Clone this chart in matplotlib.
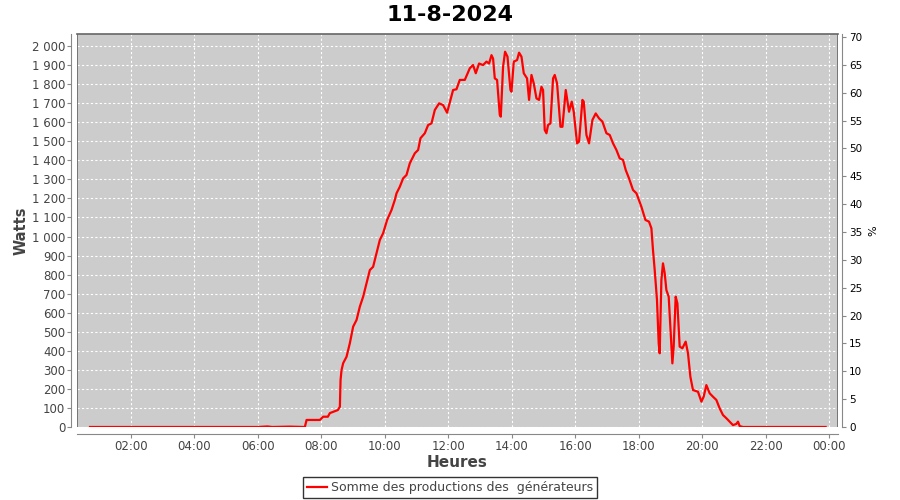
import matplotlib
matplotlib.use("Agg")
from matplotlib import pyplot as plt
from matplotlib.ticker import FuncFormatter, MultipleLocator

# heure (décimale) et puissance (W)
hours = [
    0.71, 2.0, 4.0, 6.0, 6.3, 6.45, 7.0, 7.48, 7.534, 7.953, 8.057, 8.205, 8.268,
    8.520, 8.583, 8.605, 8.636, 8.687, 8.794, 8.898, 9.002, 9.109, 9.213, 9.317,
    9.424, 9.528, 9.631, 9.739, 9.843, 9.946, 10.072, 10.211, 10.315, 10.369,
    10.472, 10.576, 10.683, 10.787, 10.945, 11.049, 11.124, 11.260, 11.364,
    11.471, 11.575, 11.710, 11.836, 11.962, 12.151, 12.258, 12.362, 12.520,
    12.677, 12.781, 12.866, 12.970, 13.096, 13.203, 13.285, 13.361, 13.411,
    13.465, 13.537, 13.622, 13.654, 13.726, 13.789, 13.865, 13.959, 13.991,
    14.063, 14.167, 14.230, 14.306, 14.378, 14.482, 14.545, 14.621, 14.693,
    14.778, 14.860, 14.935, 14.986, 15.039, 15.093, 15.143, 15.219, 15.301,
    15.354, 15.427, 15.534, 15.597, 15.701, 15.805, 15.890, 15.953, 16.057,
    16.120, 16.227, 16.268, 16.353, 16.435, 16.542, 16.646, 16.750, 16.857,
    16.983, 17.087, 17.191, 17.298, 17.402, 17.506, 17.591, 17.695, 17.821,
    17.928, 18.085, 18.211, 18.324, 18.400, 18.450, 18.504, 18.576, 18.630,
    18.661, 18.715, 18.765, 18.819, 18.872, 18.945, 18.998, 19.061, 19.102,
    19.165, 19.219, 19.291, 19.376, 19.480, 19.553, 19.628, 19.710, 19.868,
    19.975, 20.047, 20.132, 20.236, 20.340, 20.447, 20.551, 20.655, 20.762,
    20.866, 20.970, 21.077, 21.128, 21.181, 21.285, 22.0, 23.0, 23.89,
]
watts = [
    0, 0, 0, 0, 3, 0, 2, 0, 37, 37, 54, 54, 73,
    89, 106, 247, 299, 335, 369, 440, 527, 562, 632, 684,
    754, 824, 841, 912, 982, 1017, 1087, 1139, 1192, 1227,
    1261, 1305, 1323, 1384, 1437, 1454, 1516, 1542, 1585,
    1594, 1664, 1699, 1690, 1650, 1769, 1773, 1822, 1822,
    1883, 1900, 1857, 1908, 1900, 1918, 1908, 1952, 1934,
    1830, 1822, 1638, 1629, 1891, 1970, 1944, 1769, 1760,
    1918, 1926, 1965, 1944, 1857, 1830, 1717, 1848, 1804,
    1725, 1717, 1786, 1769, 1559, 1542, 1585, 1594, 1830,
    1848, 1804, 1576, 1576, 1769, 1655, 1708, 1655, 1489,
    1498, 1717, 1708, 1533, 1489, 1612, 1646, 1620, 1603,
    1542, 1533, 1489, 1454, 1410, 1402, 1349, 1305, 1244,
    1227, 1156, 1087, 1078, 1043, 929, 824, 667, 439,
    387, 772, 859, 807, 719, 684, 527, 334, 422,
    684, 649, 422, 413, 448, 387, 264, 194, 185,
    133, 159, 220, 177, 159, 142, 98, 63, 46,
    28, 10, 16, 28, 5, 0, 0, 0, 0,
]

x_ticks = [2, 4, 6, 8, 10, 12, 14, 16, 18, 20, 22, 24]
x_labels = ["02:00", "04:00", "06:00", "08:00", "10:00", "12:00",
            "14:00", "16:00", "18:00", "20:00", "22:00", "00:00"]

axis_grey = "#888888"
label_grey = "#444444"

fig = plt.figure(figsize=(9, 5), dpi=100)
ax = fig.add_axes([77 / 900, 73 / 500, 761 / 900, 393 / 500])
ax.set_facecolor("#cccccc")

ax.plot(hours, watts, color="#ff0000", lw=1.6, solid_joinstyle="round",
        label="Somme des productions des  générateurs", zorder=3)

ax.set_xlim(0.30, 24.28)
ax.set_ylim(0, 2063)
ax.set_xticks(x_ticks)
ax.set_xticklabels(x_labels)
ax.yaxis.set_major_locator(MultipleLocator(100))
ax.yaxis.set_major_formatter(
    FuncFormatter(lambda v, _: f"{int(v):,}".replace(",", " ")))

ax.grid(True, color="white", ls=(0, (2, 2)), lw=0.8, zorder=1)
ax.set_axisbelow(True)

ax.spines["top"].set_color("#666666")
ax.spines["right"].set_visible(False)
ax.spines["left"].set_position(("outward", 4))
ax.spines["bottom"].set_position(("outward", 5))
ax.spines["left"].set_color(axis_grey)
ax.spines["bottom"].set_color(axis_grey)
ax.spines["top"].set_linewidth(1.2)
ax.tick_params(axis="both", colors=axis_grey, labelcolor=label_grey,
               labelsize=8.5, length=3, width=0.8, direction="out")
ax.tick_params(axis="x", pad=1.5)
ax.tick_params(axis="y", pad=1.5)

# cadre gauche / droit de la zone de tracé
ax.axvline(0.30, color="#666666", lw=1.2, zorder=4)
ax.axvline(24.28, color="#666666", lw=1.2, zorder=4)

ax.set_xlabel("Heures", fontsize=11, fontweight="bold", color=label_grey,
              labelpad=1)
ax.set_ylabel("Watts", fontsize=10.5, fontweight="bold", color=label_grey,
              labelpad=2)

ax2 = ax.twinx()
ax2.set_ylim(0, 70.54)
ax2.yaxis.set_major_locator(MultipleLocator(5))
ax2.spines["right"].set_position(("outward", 3))
ax2.spines["right"].set_color(axis_grey)
for side in ("top", "left", "bottom"):
    ax2.spines[side].set_visible(False)
ax2.tick_params(axis="y", colors=axis_grey, labelcolor="black",
                labelsize=7.5, length=3, width=0.8, pad=2)
ax2.set_ylabel("%", fontsize=8, color="black", labelpad=4)

fig.suptitle("11-8-2024", fontsize=16, fontweight="bold", y=0.99)

leg = fig.legend(loc="center", bbox_to_anchor=(0.5, 0.025), fontsize=9,
                 frameon=True, fancybox=False, edgecolor="black",
                 handlelength=1.6, handletextpad=0.3, borderpad=0.3)
leg.get_frame().set_linewidth(1)
for t in leg.get_texts():
    t.set_color(label_grey)

fig.savefig("out.png", dpi=100)
